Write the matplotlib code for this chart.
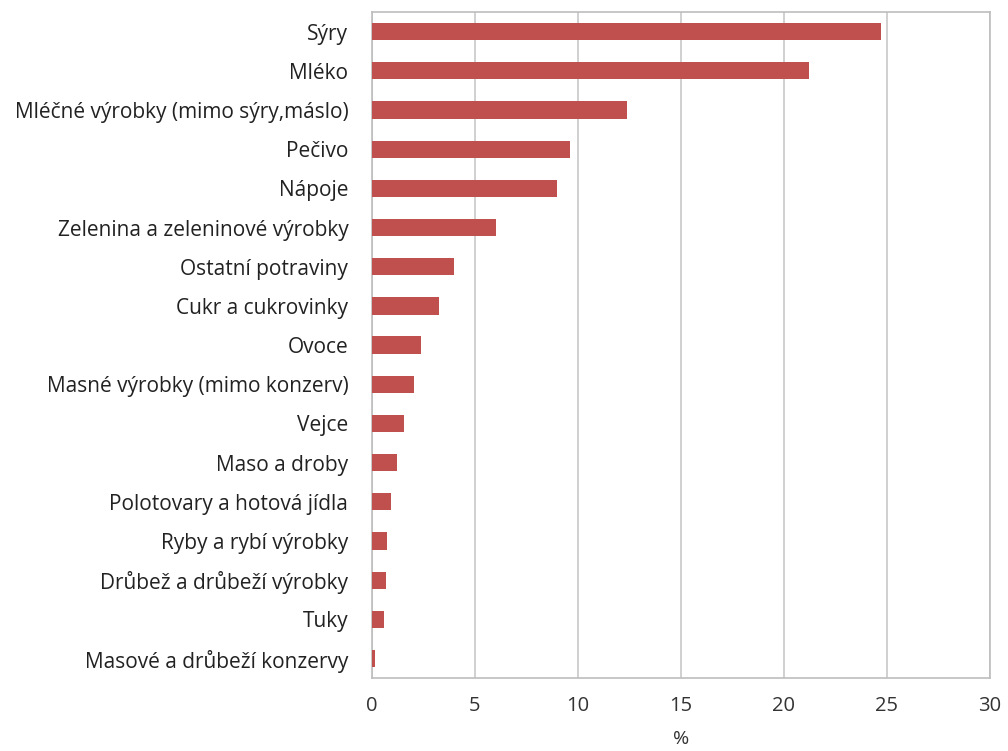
import matplotlib
matplotlib.use("Agg")
import matplotlib.pyplot as plt

plt.rcParams['font.family'] = ['Open Sans', 'DejaVu Sans']

# Podíl skupin potravin (%)
skupiny = ["Sýry", "Mléko", "Mléčné výrobky (mimo sýry,máslo)", "Pečivo", "Nápoje",
           "Zelenina a zeleninové výrobky", "Ostatní potraviny", "Cukr a cukrovinky",
           "Ovoce", "Masné výrobky (mimo konzerv)", "Vejce", "Maso a droby",
           "Polotovary a hotová jídla", "Ryby a rybí výrobky", "Drůbež a drůbeží výrobky",
           "Tuky", "Masové a drůbeží konzervy"]
podil = [24.7, 21.2, 12.4, 9.6, 9.0, 6.0, 4.0, 3.25, 2.4, 2.05, 1.55, 1.2,
         0.92, 0.73, 0.68, 0.58, 0.15]
x_ticks = [0, 5, 10, 15, 20, 25, 30]

fig = plt.figure(figsize=(10.08, 7.51), dpi=100)
ax = fig.add_axes([0.369, 0.097, 0.613, 0.887])

y = list(range(len(skupiny)))
ax.barh(y, podil, height=0.44, color="#C0504D", zorder=3)

ax.set_ylim(len(skupiny) - 0.5, -0.5)
ax.set_xlim(0, 30)
ax.set_xticks(x_ticks)
ax.set_yticks(y)
ax.set_yticklabels(skupiny, fontsize=15, color="#222222")
ax.tick_params(axis="x", labelsize=14.5, labelcolor="#333333", length=0, pad=13)
ax.tick_params(axis="y", length=0, pad=17)
ax.grid(axis="x", color="#C8C8C8", linewidth=1.2, zorder=0)

for s in ax.spines.values():
    s.set_color("#BDBDBD")
    s.set_linewidth(1.2)

ax.set_xlabel("%", fontsize=14, color="#333333", labelpad=10)

fig.savefig("out.png", dpi=100)
